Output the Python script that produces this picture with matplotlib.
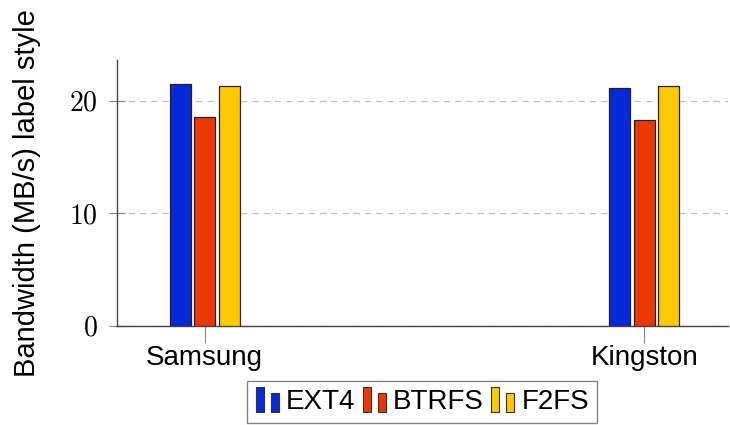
import matplotlib
matplotlib.use("Agg")
import matplotlib.pyplot as plt
from matplotlib.legend_handler import HandlerBase
from matplotlib.patches import Rectangle
from matplotlib.ticker import FuncFormatter
import numpy as np

# data
devices = ["Samsung", "Kingston"]
fs_names = ["EXT4", "BTRFS", "F2FS"]
ext4 = [21.5, 21.1]
btrfs = [18.5, 18.3]
f2fs = [21.3, 21.3]
colors = ["#0529d6", "#e83a00", "#ffc800"]

plt.rcParams["mathtext.fontset"] = "cm"
plt.rcParams["font.family"] = ["Liberation Sans", "DejaVu Sans"]


class TwoBarHandler(HandlerBase):
    """pgfplots-style legend icon: two small bars."""

    def create_artists(self, legend, orig_handle, xdescent, ydescent,
                       width, height, fontsize, trans):
        fc = orig_handle.get_facecolor()
        w = width * 0.32
        r1 = Rectangle((-xdescent, -ydescent - 0.15 * height), w, height * 1.25,
                       facecolor=fc, edgecolor="#333333", lw=0.8, transform=trans)
        r2 = Rectangle((-xdescent + width * 0.62, -ydescent - 0.15 * height), w, height * 0.95,
                       facecolor=fc, edgecolor="#333333", lw=0.8, transform=trans)
        return [r1, r2]


fig = plt.figure(figsize=(7.3, 4.25), dpi=100)
ax = fig.add_axes([0.160, 0.233, 0.837, 0.626])

x = np.arange(len(devices))
width = 0.048
step = 0.056
bars = []
for i, (vals, name) in enumerate(zip([ext4, btrfs, f2fs], fs_names)):
    b = ax.bar(x + (i - 1) * step, vals, width, color=colors[i],
               edgecolor="#222222", linewidth=0.9, label=name, zorder=3)
    bars.append(b)

ax.set_xlim(-0.2, 1.19)
ax.set_ylim(0, 23.6)
ax.set_yticks([0, 10, 20])
ax.yaxis.set_major_formatter(FuncFormatter(lambda v, p: f"${v:g}$"))
ax.set_xticks(x)
ax.set_xticklabels(devices)

ax.grid(axis="y", color="#c0c0c0", linestyle=(0, (5, 4)), linewidth=0.9, zorder=0)
for side in ["top", "right"]:
    ax.spines[side].set_visible(False)
for side in ["left", "bottom"]:
    ax.spines[side].set_color("#444444")
    ax.spines[side].set_linewidth(1.0)

ax.tick_params(axis="y", direction="inout", length=12, width=0.8,
               color="#888888", labelsize=20, pad=8)
ax.tick_params(axis="x", direction="inout", length=24, width=0.8,
               color="#888888", labelsize=20, pad=2)
ax.set_ylabel("Bandwidth (MB/s) label style", fontsize=21, labelpad=20)

leg = ax.legend(handles=[b.patches[0] for b in bars], labels=fs_names,
                handler_map={Rectangle: TwoBarHandler()},
                loc="upper center", bbox_to_anchor=(0.5, -0.205), ncol=3,
                fontsize=20, frameon=True, fancybox=False,
                handlelength=0.9, handletextpad=0.2, columnspacing=0.25,
                borderpad=0.3, borderaxespad=0)
leg.get_frame().set_edgecolor("#666666")
leg.get_frame().set_linewidth(1.0)

fig.savefig("out.png", dpi=100)
